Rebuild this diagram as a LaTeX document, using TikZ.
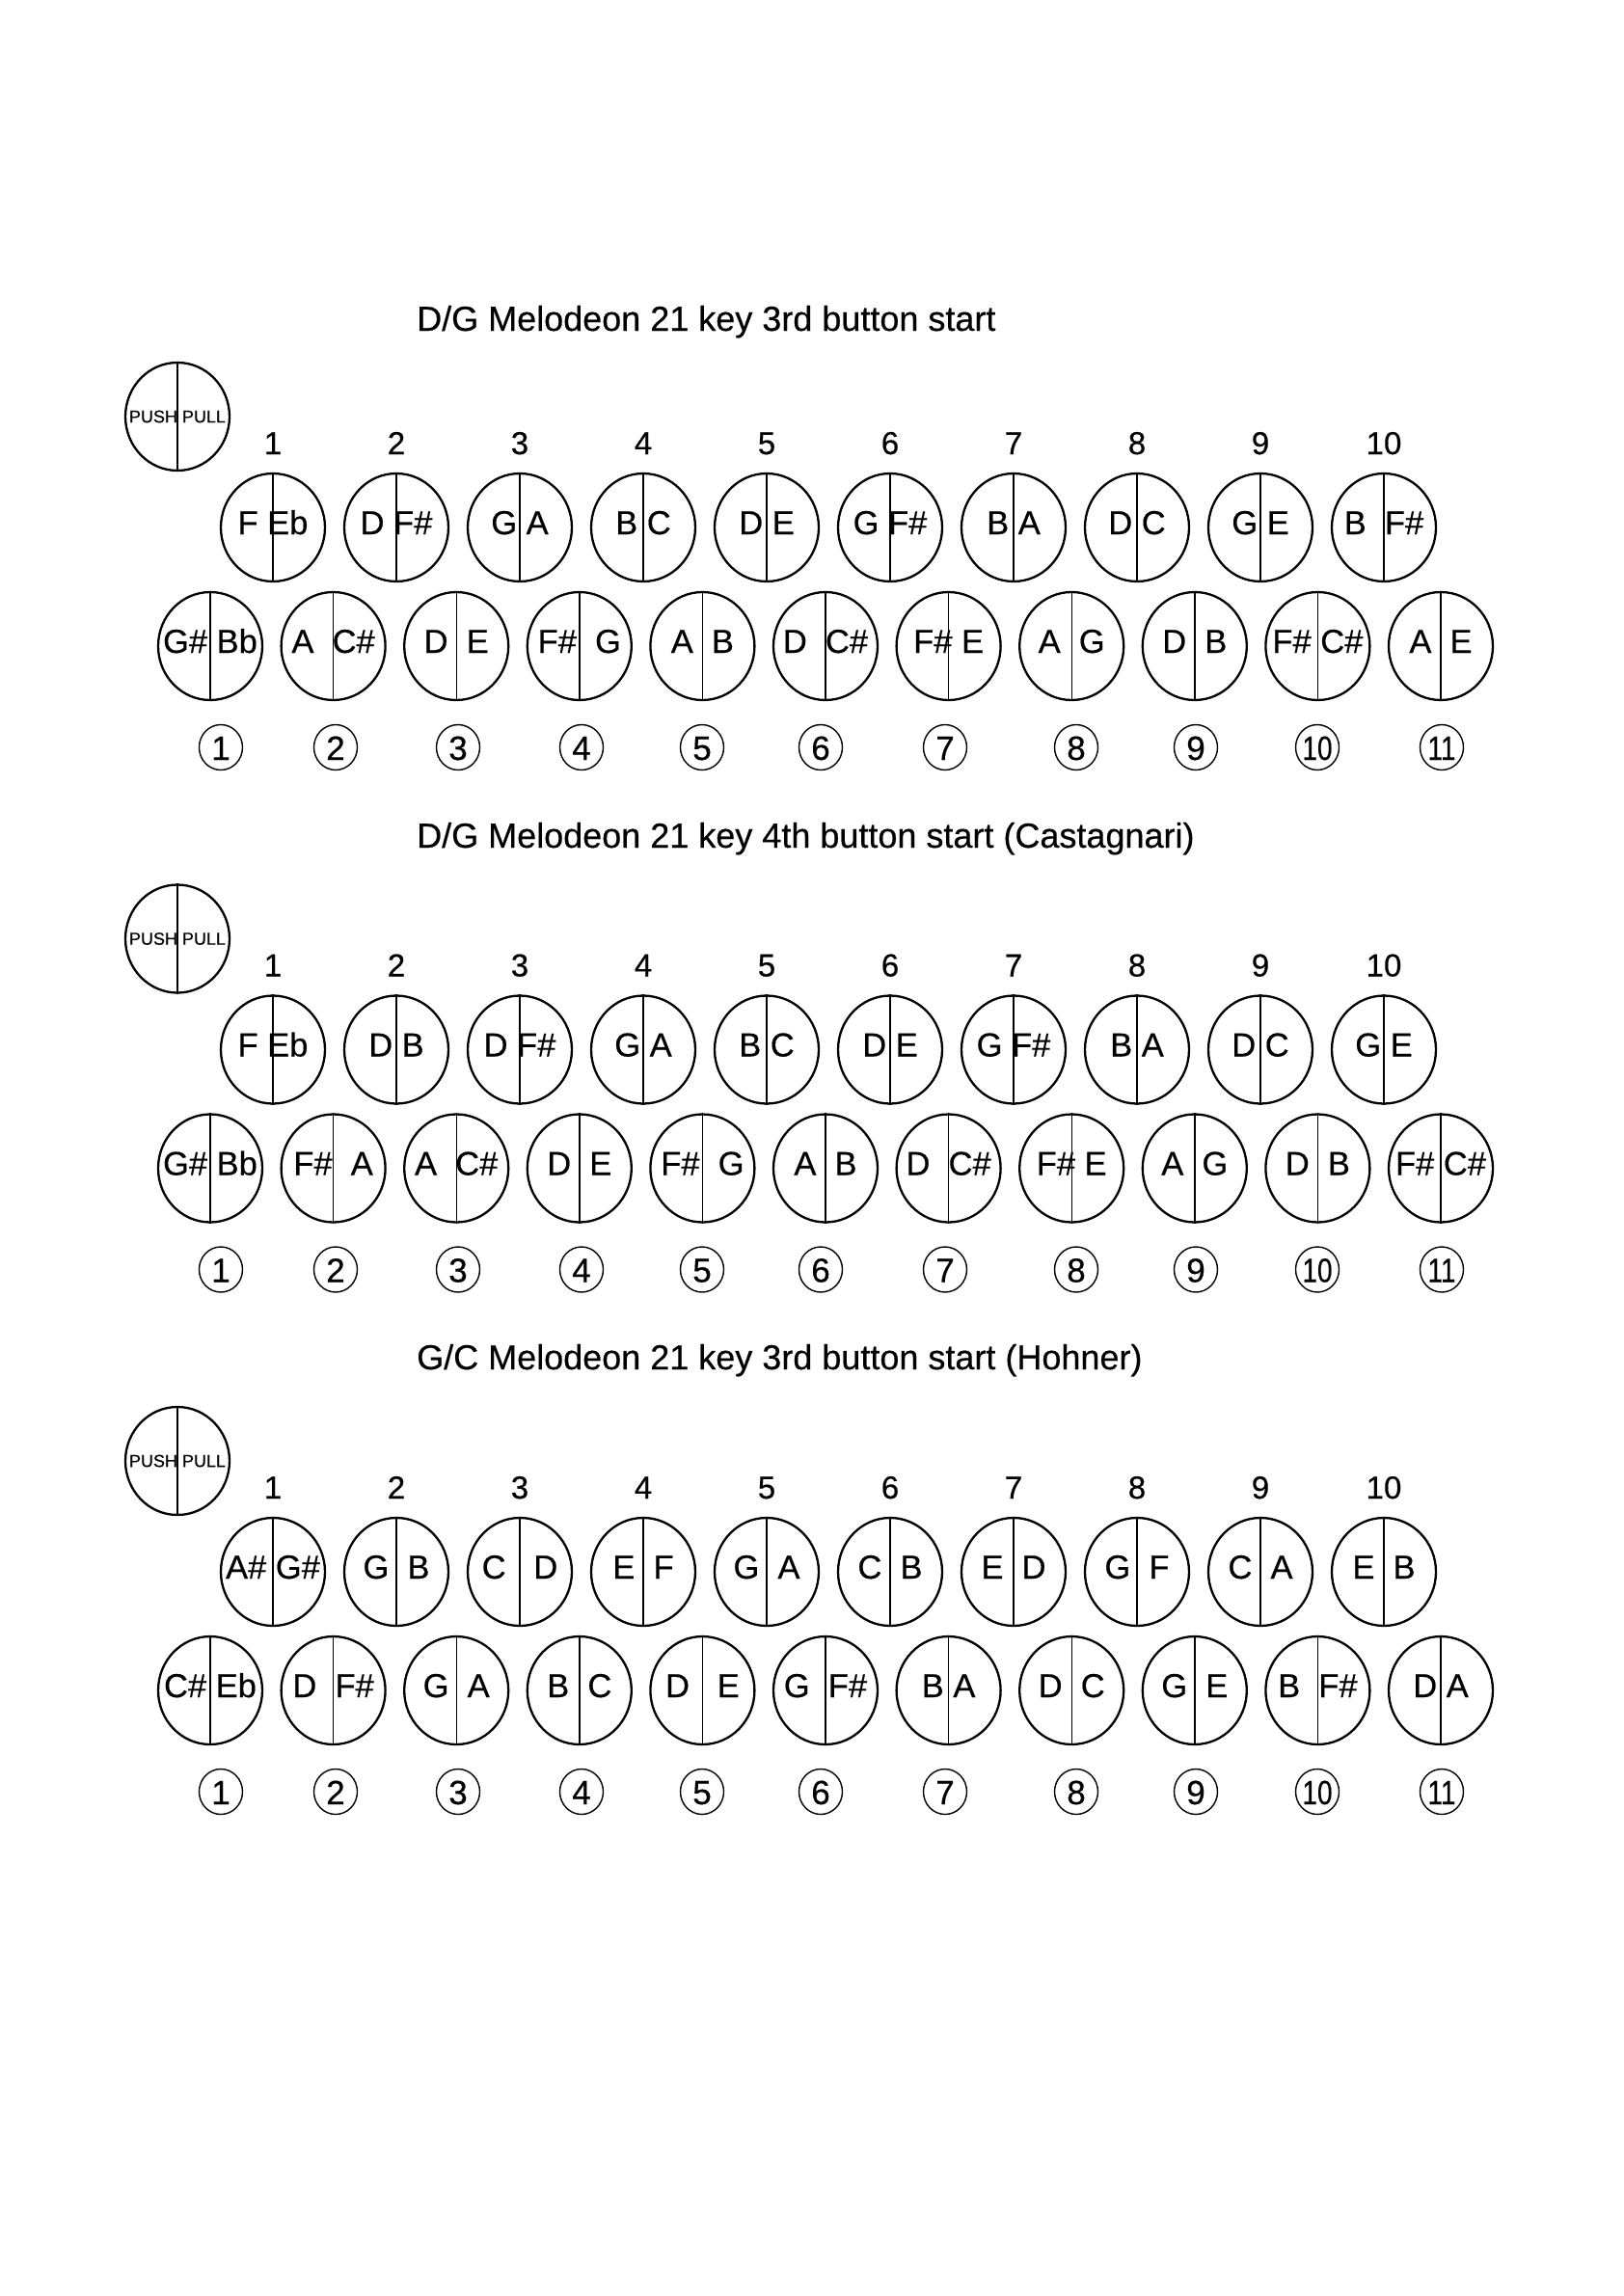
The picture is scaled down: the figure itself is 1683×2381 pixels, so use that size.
\documentclass[tikz,border=0pt]{standalone}
\usepackage{fontspec}
\setmainfont{Liberation Sans}[UprightFeatures={FakeBold=0.4}]
\usepackage{graphicx}
\usetikzlibrary{shapes.geometric}
\newcommand\melsection[6]{% #1 id, #2 y offset, #3 title baseline, #4 title, #5 top row, #6 bottom row
  \node[titletext] (#1title) at (432,#3) {#4};
  \node[btn] (#1push) at (184,{432+#2}) {};
  \draw[divline] (#1push.north) -- (#1push.south);
  \node[pptext] (#1pushtx) at (#1push.center) {PUSH PULL};
  \foreach \i in {1,...,10} {
    \node[colnum] (#1col\i) at ({283+128*(\i-1)},{471+#2}) {\i};
  }
  \foreach \lab [count=\i] in {#5} {
    \node[btn] (#1t\i) at ({283+128*(\i-1)},{547+#2}) {};
    \draw[divline] (#1t\i.north) -- (#1t\i.south);
    \node[note] (#1tx\i) at (#1t\i.center) {\lab};
  }
  \foreach \lab [count=\i] in {#6} {
    \node[btn] (#1b\i) at ({218+127.6*(\i-1)},{670+#2}) {};
    \draw[divline] (#1b\i.north) -- (#1b\i.south);
    \node[note] (#1bx\i) at (#1b\i.center) {\lab};
  }
  \foreach \cx [count=\i] in {229,348,475,603,728,851,980,1116,1240,1366,1495} {
    \node[cring] (#1c\i) at (\cx,{775+#2}) {};
    \node[cdig] (#1cd\i) at (#1c\i.center) {\ifnum\i>9 \scalebox{0.8}[1]{\i}\else\i\fi};
  }
}
\begin{document}
\begin{tikzpicture}[x=1pt,y=-1pt,
  btn/.style={ellipse,draw=black,line width=2.3pt,minimum width=108pt,minimum height=112pt,inner sep=0pt},
  divline/.style={line width=1.4pt},
  note/.style={anchor=base,inner sep=0pt,yshift=-7pt,font=\fontsize{34.5}{40}\selectfont},
  pptext/.style={anchor=center,inner sep=0pt,font=\fontsize{18}{20}\selectfont},
  colnum/.style={anchor=base,inner sep=0pt,font=\fontsize{33}{36}\selectfont},
  titletext/.style={anchor=base west,inner sep=0pt,font=\fontsize{36}{40}\selectfont},
  cring/.style={ellipse,draw=black,line width=1.4pt,minimum width=45pt,minimum height=47pt,inner sep=0pt},
  cdig/.style={anchor=base,inner sep=0pt,yshift=-13pt,font=\fontsize{35}{40}\selectfont}]
\fill[white] (0,0) rectangle (1683,2381);
\useasboundingbox (0,0) rectangle (1683,2381);
\melsection{s1}{0}{343}{D/G Melodeon 21 key 3rd button start}
  {{F Eb},{D F\#},{G A},{B C},{D E},{G F\#},{B A},{D C},{G E},{B\ \ F\#}}
  {{G\# Bb},{A\ \ C\#},{D\ \ E},{F\#\ \ G},{A\ \ B},{D\ \ C\#},{F\# E},{A\ \ G},{D\ \ B},{F\# C\#},{A\ \ E}}
\melsection{s2}{541.5}{879}{D/G Melodeon 21 key 4th button start (Castagnari)}
  {{F Eb},{D B},{D F\#},{G A},{B C},{D E},{G F\#},{B A},{D C},{G E}}
  {{G\# Bb},{F\#\ \ A},{A\ \ C\#},{D\ \ E},{F\#\ \ G},{A\ \ B},{D\ \ C\#},{F\# E},{A\ \ G},{D\ \ B},{F\# C\#}}
\melsection{s3}{1083}{1420}{G/C Melodeon 21 key 3rd button start (Hohner)}
  {{A\# G\#},{G\ \ B},{C\ \ \ D},{E\ \ F},{G\ \ A},{C\ \ B},{E\ \ D},{G\ \ F},{C\ \ A},{E\ \ B}}
  {{C\# Eb},{D\ \ F\#},{G\ \ A},{B\ \ C},{D\ \ \ E},{G\ \ F\#},{B A},{D\ \ C},{G\ \ E},{B\ \ F\#},{D A}}
\end{tikzpicture}
\end{document}
